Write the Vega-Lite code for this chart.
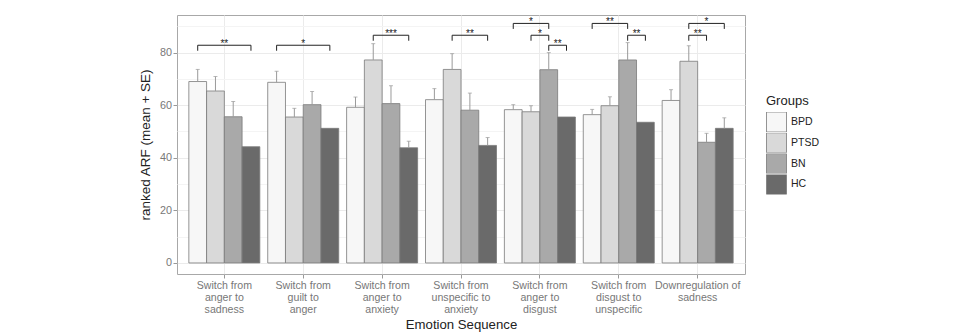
{
  "$schema": "https://vega.github.io/schema/vega-lite/v6.json",
  "width": 568,
  "height": 259,
  "autosize": {"type": "none"},
  "padding": {"left": 177, "top": 15, "right": 218, "bottom": 60},
  "background": "white",
  "config": {
    "font": "Liberation Sans",
    "view": {"stroke": "#a8a8a8", "strokeWidth": 1}
  },
  "datasets": {
    "arf": [
      {"seq": "Switch from\nanger to\nsadness", "group": "BPD", "mean": 69.0, "upper": 73.6},
      {"seq": "Switch from\nanger to\nsadness", "group": "PTSD", "mean": 65.4, "upper": 70.9},
      {"seq": "Switch from\nanger to\nsadness", "group": "BN", "mean": 55.6, "upper": 61.4},
      {"seq": "Switch from\nanger to\nsadness", "group": "HC", "mean": 44.2, "upper": null},
      {"seq": "Switch from\nguilt to\nanger", "group": "BPD", "mean": 68.7, "upper": 72.9},
      {"seq": "Switch from\nguilt to\nanger", "group": "PTSD", "mean": 55.5, "upper": 58.8},
      {"seq": "Switch from\nguilt to\nanger", "group": "BN", "mean": 60.2, "upper": 65.2},
      {"seq": "Switch from\nguilt to\nanger", "group": "HC", "mean": 51.2, "upper": null},
      {"seq": "Switch from\nanger to\nanxiety", "group": "BPD", "mean": 59.2, "upper": 63.1},
      {"seq": "Switch from\nanger to\nanxiety", "group": "PTSD", "mean": 77.2, "upper": 83.4},
      {"seq": "Switch from\nanger to\nanxiety", "group": "BN", "mean": 60.6, "upper": 67.4},
      {"seq": "Switch from\nanger to\nanxiety", "group": "HC", "mean": 43.8, "upper": 46.3},
      {"seq": "Switch from\nunspecific to\nanxiety", "group": "BPD", "mean": 62.1, "upper": 66.3},
      {"seq": "Switch from\nunspecific to\nanxiety", "group": "PTSD", "mean": 73.6, "upper": 79.6},
      {"seq": "Switch from\nunspecific to\nanxiety", "group": "BN", "mean": 58.1, "upper": 64.6},
      {"seq": "Switch from\nunspecific to\nanxiety", "group": "HC", "mean": 44.7, "upper": 47.7},
      {"seq": "Switch from\nanger to\ndisgust", "group": "BPD", "mean": 58.3, "upper": 60.2},
      {"seq": "Switch from\nanger to\ndisgust", "group": "PTSD", "mean": 57.5, "upper": 59.8},
      {"seq": "Switch from\nanger to\ndisgust", "group": "BN", "mean": 73.5, "upper": 80.0},
      {"seq": "Switch from\nanger to\ndisgust", "group": "HC", "mean": 55.5, "upper": null},
      {"seq": "Switch from\ndisgust to\nunspecific", "group": "BPD", "mean": 56.4, "upper": 58.4},
      {"seq": "Switch from\ndisgust to\nunspecific", "group": "PTSD", "mean": 59.8, "upper": 63.2},
      {"seq": "Switch from\ndisgust to\nunspecific", "group": "BN", "mean": 77.2, "upper": 83.8},
      {"seq": "Switch from\ndisgust to\nunspecific", "group": "HC", "mean": 53.5, "upper": null},
      {"seq": "Downregulation of\nsadness", "group": "BPD", "mean": 61.8, "upper": 65.9},
      {"seq": "Downregulation of\nsadness", "group": "PTSD", "mean": 76.7, "upper": 82.6},
      {"seq": "Downregulation of\nsadness", "group": "BN", "mean": 45.9, "upper": 49.3},
      {"seq": "Downregulation of\nsadness", "group": "HC", "mean": 51.2, "upper": 55.2}
    ],
    "brackets": [
      {"seq": "Switch from\nanger to\nsadness", "from": "BPD", "to": "HC", "h": 82.8, "label": "**"},
      {"seq": "Switch from\nguilt to\nanger", "from": "BPD", "to": "HC", "h": 82.8, "label": "*"},
      {"seq": "Switch from\nanger to\nanxiety", "from": "PTSD", "to": "HC", "h": 86.6, "label": "***"},
      {"seq": "Switch from\nunspecific to\nanxiety", "from": "PTSD", "to": "HC", "h": 86.6, "label": "**"},
      {"seq": "Switch from\nanger to\ndisgust", "from": "BPD", "to": "BN", "h": 91.1, "label": "*"},
      {"seq": "Switch from\nanger to\ndisgust", "from": "PTSD", "to": "BN", "h": 86.6, "label": "*"},
      {"seq": "Switch from\nanger to\ndisgust", "from": "BN", "to": "HC", "h": 82.8, "label": "**"},
      {"seq": "Switch from\ndisgust to\nunspecific", "from": "BPD", "to": "BN", "h": 91.1, "label": "**"},
      {"seq": "Switch from\ndisgust to\nunspecific", "from": "BN", "to": "HC", "h": 86.6, "label": "**"},
      {"seq": "Downregulation of\nsadness", "from": "PTSD", "to": "HC", "h": 91.1, "label": "*"},
      {"seq": "Downregulation of\nsadness", "from": "PTSD", "to": "BN", "h": 86.6, "label": "**"}
    ]
  },
  "encoding": {
    "x": {
      "field": "seq",
      "type": "nominal",
      "scale": {
        "domain": [
          "Switch from\nanger to\nsadness",
          "Switch from\nguilt to\nanger",
          "Switch from\nanger to\nanxiety",
          "Switch from\nunspecific to\nanxiety",
          "Switch from\nanger to\ndisgust",
          "Switch from\ndisgust to\nunspecific",
          "Downregulation of\nsadness"
        ],
        "paddingInner": 0.1,
        "paddingOuter": 0.15
      },
      "axis": {
        "title": "Emotion Sequence",
        "labelExpr": "split(datum.label, '\\n')",
        "labelAngle": 0,
        "labelFontSize": 10.6,
        "labelColor": "#777777",
        "labelLineHeight": 12.2,
        "labelPadding": 2,
        "tickSize": 4,
        "tickColor": "#999999",
        "bandPosition": 0.5,
        "grid": true,
        "gridColor": "#ebebeb",
        "domain": false,
        "titleFontSize": 13.2,
        "titleFontWeight": "normal",
        "titleColor": "#222222",
        "titlePadding": 3
      }
    }
  },
  "resolve": {"axis": {"y": "independent"}},
  "layer": [
    {
      "data": {"name": "arf"},
      "mark": {"type": "bar", "stroke": "#7a7a7a", "strokeWidth": 0.8},
      "encoding": {
        "xOffset": {"field": "group", "type": "nominal", "scale": {"domain": ["BPD", "PTSD", "BN", "HC"], "paddingInner": 0, "paddingOuter": 0}},
        "y": {
          "field": "mean",
          "type": "quantitative",
          "scale": {"domain": [-4.2, 94.3], "nice": false, "zero": false},
          "axis": {
            "title": "ranked ARF (mean + SE)",
            "values": [0, 20, 40, 60, 80],
            "grid": true,
            "gridColor": "#ebebeb",
            "tickSize": 4,
            "tickColor": "#999999",
            "labelColor": "#777777",
            "labelFontSize": 10.8,
            "labelPadding": 1.5,
            "domain": false,
            "titleFontSize": 13.5,
            "titleFontWeight": "normal",
            "titleColor": "#222222",
            "titlePadding": 7
          }
        },
        "fill": {
          "field": "group",
          "type": "nominal",
          "scale": {"domain": ["BPD", "PTSD", "BN", "HC"], "range": ["#f7f7f7", "#d9d9d9", "#a9a9a9", "#6a6a6a"]},
          "legend": {
            "title": "Groups",
            "orient": "none",
            "legendX": 589,
            "legendY": 80,
            "symbolType": "square",
            "symbolSize": 400,
            "symbolStrokeColor": "#7a7a7a",
            "symbolStrokeWidth": 0.8,
            "clipHeight": 20,
            "rowPadding": 0.8,
            "labelFontSize": 10.5,
            "labelColor": "#222222",
            "labelOffset": 4,
            "titleFontSize": 13,
            "titleFontWeight": "normal",
            "titleColor": "#222222",
            "titlePadding": 4
          }
        }
      }
    },
    {
      "data": {"name": "arf"},
      "transform": [{"filter": "isValid(datum.upper)"}],
      "mark": {"type": "rule", "color": "#9a9a9a", "strokeWidth": 1},
      "encoding": {
        "xOffset": {"field": "group", "type": "nominal", "scale": {"domain": ["BPD", "PTSD", "BN", "HC"], "paddingInner": 0, "paddingOuter": 0}},
        "y": {
          "field": "mean",
          "type": "quantitative",
          "scale": {"domain": [-4.2, 94.3], "nice": false, "zero": false},
          "axis": {
            "orient": "right",
            "values": [10, 30, 50, 70, 90],
            "grid": true,
            "gridColor": "#f4f4f4",
            "labels": false,
            "ticks": false,
            "domain": false,
            "title": null
          }
        },
        "y2": {"field": "upper"}
      }
    },
    {
      "data": {"name": "arf"},
      "transform": [{"filter": "isValid(datum.upper)"}],
      "mark": {"type": "tick", "color": "#9a9a9a", "size": 4, "thickness": 1},
      "encoding": {
        "xOffset": {"field": "group", "type": "nominal", "scale": {"domain": ["BPD", "PTSD", "BN", "HC"], "paddingInner": 0, "paddingOuter": 0}},
        "y": {"field": "upper", "type": "quantitative", "scale": {"domain": [-4.2, 94.3], "nice": false, "zero": false}, "axis": null}
      }
    },
    {
      "data": {"name": "brackets"},
      "transform": [{"fold": ["from", "to"], "as": ["end", "grp"]}],
      "mark": {"type": "line", "color": "#222222", "strokeWidth": 1},
      "encoding": {
        "xOffset": {"field": "grp", "type": "nominal", "scale": {"domain": ["BPD", "PTSD", "BN", "HC"], "paddingInner": 0, "paddingOuter": 0}},
        "y": {"field": "h", "type": "quantitative", "scale": {"domain": [-4.2, 94.3], "nice": false, "zero": false}, "axis": null},
        "detail": [{"field": "seq"}, {"field": "from"}, {"field": "to"}]
      }
    },
    {
      "data": {"name": "brackets"},
      "transform": [{"fold": ["from", "to"], "as": ["end", "grp"]}],
      "mark": {"type": "rule", "color": "#222222", "strokeWidth": 1, "y2Offset": 5.5},
      "encoding": {
        "xOffset": {"field": "grp", "type": "nominal", "scale": {"domain": ["BPD", "PTSD", "BN", "HC"], "paddingInner": 0, "paddingOuter": 0}},
        "y": {"field": "h", "type": "quantitative", "scale": {"domain": [-4.2, 94.3], "nice": false, "zero": false}, "axis": null},
        "y2": {"field": "h"}
      }
    },
    {
      "data": {"name": "brackets"},
      "transform": [{"filter": "indexof(['BPD','PTSD','BN','HC'], datum.to) - indexof(['BPD','PTSD','BN','HC'], datum.from) == 3"}],
      "mark": {"type": "text", "baseline": "alphabetic", "dy": 2, "fontSize": 10, "color": "#1a1a1a"},
      "encoding": {
        "y": {"field": "h", "type": "quantitative", "scale": {"domain": [-4.2, 94.3], "nice": false, "zero": false}, "axis": null},
        "text": {"field": "label"}
      }
    },
    {
      "data": {"name": "brackets"},
      "transform": [{"filter": "indexof(['BPD','PTSD','BN','HC'], datum.to) - indexof(['BPD','PTSD','BN','HC'], datum.from) == 2"}],
      "mark": {"type": "text", "baseline": "alphabetic", "dy": 2, "dx": 17.75, "fontSize": 10, "color": "#1a1a1a"},
      "encoding": {
        "xOffset": {"field": "from", "type": "nominal", "scale": {"domain": ["BPD", "PTSD", "BN", "HC"], "paddingInner": 0, "paddingOuter": 0}},
        "y": {"field": "h", "type": "quantitative", "scale": {"domain": [-4.2, 94.3], "nice": false, "zero": false}, "axis": null},
        "text": {"field": "label"}
      }
    },
    {
      "data": {"name": "brackets"},
      "transform": [{"filter": "indexof(['BPD','PTSD','BN','HC'], datum.to) - indexof(['BPD','PTSD','BN','HC'], datum.from) == 1"}],
      "mark": {"type": "text", "baseline": "alphabetic", "dy": 2, "dx": 8.9, "fontSize": 10, "color": "#1a1a1a"},
      "encoding": {
        "xOffset": {"field": "from", "type": "nominal", "scale": {"domain": ["BPD", "PTSD", "BN", "HC"], "paddingInner": 0, "paddingOuter": 0}},
        "y": {"field": "h", "type": "quantitative", "scale": {"domain": [-4.2, 94.3], "nice": false, "zero": false}, "axis": null},
        "text": {"field": "label"}
      }
    }
  ]
}
